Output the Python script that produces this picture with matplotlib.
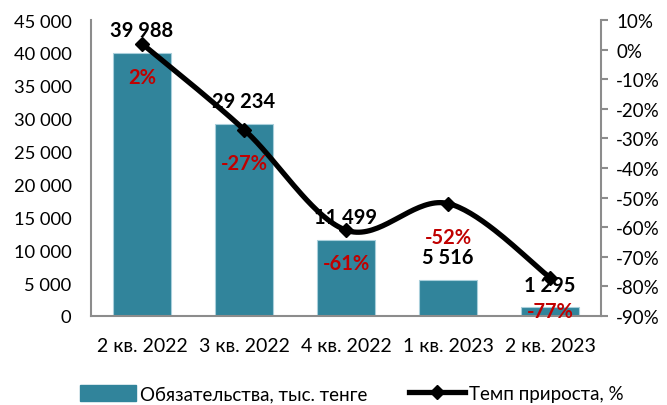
import numpy as np
import matplotlib
matplotlib.use("Agg")
import matplotlib.pyplot as plt
from matplotlib.lines import Line2D
from matplotlib.patches import Patch

plt.rcParams['font.family'] = ['Lato', 'DejaVu Sans']

categories = ["2 кв. 2022", "3 кв. 2022", "4 кв. 2022", "1 кв. 2023", "2 кв. 2023"]
liabilities = [39988, 29234, 11499, 5516, 1295]
growth = [2, -27, -61, -52, -77]
bar_label = "Обязательства, тыс. тенге"
line_label = "Темп прироста, %"

bar_color = "#31849B"
grey = "#8C8C8C"

fig = plt.figure(figsize=(6.67, 4.06), dpi=100)
ax = fig.add_axes([91/667, 1-317/406, (601-91)/667, (317-21)/406])
ax2 = ax.twinx()

x = np.arange(len(categories))
ax.bar(x, liabilities, width=0.57, color=bar_color, edgecolor="#A9CFDB", linewidth=0.8, zorder=2)
ax.set_xlim(-0.5, len(categories) - 0.5)
ax.set_ylim(0, 45000)
ax.set_yticks(np.arange(0, 45001, 5000))
ax.set_yticklabels([f"{v:,}".replace(",", " ") for v in range(0, 45001, 5000)], fontsize=13.2)
ax.set_xticks(x)
ax.set_xticklabels(categories, fontsize=14)
ax.tick_params(axis='y', length=0, pad=14)
ax.tick_params(axis='x', length=0, pad=15)

for s in ['top', 'right']:
    ax.spines[s].set_visible(False)
ax.spines['left'].set_color(grey)
ax.spines['bottom'].set_color(grey)
ax.spines['left'].set_linewidth(1.5)
ax.spines['bottom'].set_linewidth(1.5)

# smooth line (Catmull-Rom, like Excel smoothing)
xs = x.astype(float)
ys = np.array(growth, dtype=float)
px = np.concatenate([[xs[0]], xs, [xs[-1]]])
py = np.concatenate([[ys[0]], ys, [ys[-1]]])
cx, cy = [], []
t = np.linspace(0, 1, 40)
for i in range(1, len(px) - 2):
    p0x, p1x, p2x, p3x = px[i-1], px[i], px[i+1], px[i+2]
    p0y, p1y, p2y, p3y = py[i-1], py[i], py[i+1], py[i+2]
    b1x, b1y = p1x + (p2x - p0x) / 6, p1y + (p2y - p0y) / 6
    b2x, b2y = p2x - (p3x - p1x) / 6, p2y - (p3y - p1y) / 6
    bx = (1-t)**3*p1x + 3*(1-t)**2*t*b1x + 3*(1-t)*t**2*b2x + t**3*p2x
    by = (1-t)**3*p1y + 3*(1-t)**2*t*b1y + 3*(1-t)*t**2*b2y + t**3*p2y
    cx.extend(bx); cy.extend(by)
ax2.plot(cx, cy, color='black', linewidth=3.8, solid_capstyle='round', zorder=3)
ax2.plot(xs, ys, linestyle='none', marker='D', markersize=7, color='black', zorder=4)

ax2.set_ylim(-90, 10)
ax2.set_yticks(np.arange(-90, 11, 10))
ax2.set_yticklabels([f"{v}%" for v in range(-90, 11, 10)], fontsize=13.5)
ax2.tick_params(axis='y', length=5, width=1.5, color=grey, pad=6)
for s in ['top', 'left', 'bottom']:
    ax2.spines[s].set_visible(False)
ax2.spines['right'].set_color(grey)
ax2.spines['right'].set_linewidth(1.5)

for xi, v in zip(x, liabilities):
    ax.annotate(f"{v:,}".replace(",", " "), (xi, v), xytext=(0, 16.5), textcoords='offset points',
                ha='center', va='center', fontsize=14.5, fontweight='bold', zorder=5)
for xi, g in zip(x, growth):
    ax2.annotate(f"{g}%", (xi, g), xytext=(0, -24), textcoords='offset points',
                 ha='center', va='center', fontsize=14.5, fontweight='bold', color='#C00000', zorder=5)

handles = [Patch(facecolor=bar_color, edgecolor=bar_color),
           Line2D([0], [0], color='black', linewidth=3.8, marker='D', markersize=7)]
fig.legend(handles, [bar_label, line_label], loc='lower center', bbox_to_anchor=(0.527, -0.035),
           ncol=2, frameon=False, fontsize=13.5, handlelength=3.0, handleheight=0.9,
           columnspacing=2.2, handletextpad=0.2)

fig.savefig("out.png", dpi=100)
